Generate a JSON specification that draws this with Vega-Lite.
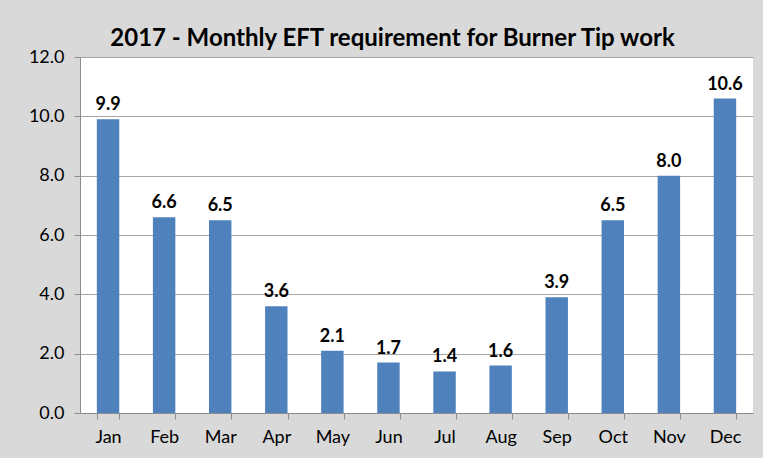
{
  "$schema": "https://vega.github.io/schema/vega-lite/v6.json",
  "autosize": {"type": "none"},
  "padding": {"left": 80, "top": 57, "right": 10, "bottom": 45},
  "width": 673,
  "height": 356,
  "background": "#D9D9D9",
  "title": {
    "text": "2017 - Monthly EFT requirement for Burner Tip work",
    "font": "Lato",
    "fontSize": 24,
    "fontWeight": "bold",
    "color": "#000000",
    "anchor": "middle",
    "offset": 9,
    "dx": -24,
    "dy": 12
  },
  "config": {
    "view": {"fill": "#FFFFFF", "stroke": null},
    "font": "Lato"
  },
  "data": {
    "values": [
      {"month": "Jan", "eft": 9.9},
      {"month": "Feb", "eft": 6.6},
      {"month": "Mar", "eft": 6.5},
      {"month": "Apr", "eft": 3.6},
      {"month": "May", "eft": 2.1},
      {"month": "Jun", "eft": 1.7},
      {"month": "Jul", "eft": 1.4},
      {"month": "Aug", "eft": 1.6},
      {"month": "Sep", "eft": 3.9},
      {"month": "Oct", "eft": 6.5},
      {"month": "Nov", "eft": 8.0},
      {"month": "Dec", "eft": 10.6}
    ]
  },
  "encoding": {
    "x": {
      "field": "month",
      "type": "nominal",
      "sort": null,
      "scale": {"paddingInner": 0.6, "paddingOuter": 0.3},
      "axis": {
        "title": null,
        "labelAngle": 0,
        "labelFont": "Lato",
        "labelFontSize": 18,
        "labelColor": "#000000",
        "labelPadding": 9,
        "tickBand": "extent",
        "tickSize": 6,
        "tickColor": "#8C8C8C",
        "domainColor": "#8C8C8C",
        "grid": false
      }
    },
    "y": {
      "field": "eft",
      "type": "quantitative",
      "scale": {"domain": [0, 12], "nice": false},
      "axis": {
        "title": null,
        "values": [0, 2, 4, 6, 8, 10, 12],
        "format": ".1f",
        "labelFont": "Lato",
        "labelFontSize": 18,
        "labelColor": "#000000",
        "labelPadding": 10,
        "tickSize": 6,
        "tickColor": "#8C8C8C",
        "domainColor": "#8C8C8C",
        "gridColor": "#A6A6A6",
        "gridWidth": 1
      }
    }
  },
  "layer": [
    {"mark": {"type": "bar", "color": "#4F81BD"}},
    {
      "mark": {
        "type": "text",
        "baseline": "bottom",
        "dy": -5,
        "font": "Lato",
        "fontSize": 18,
        "fontWeight": "bold",
        "color": "#000000"
      },
      "encoding": {"text": {"field": "eft", "type": "quantitative", "format": ".1f"}}
    }
  ]
}
